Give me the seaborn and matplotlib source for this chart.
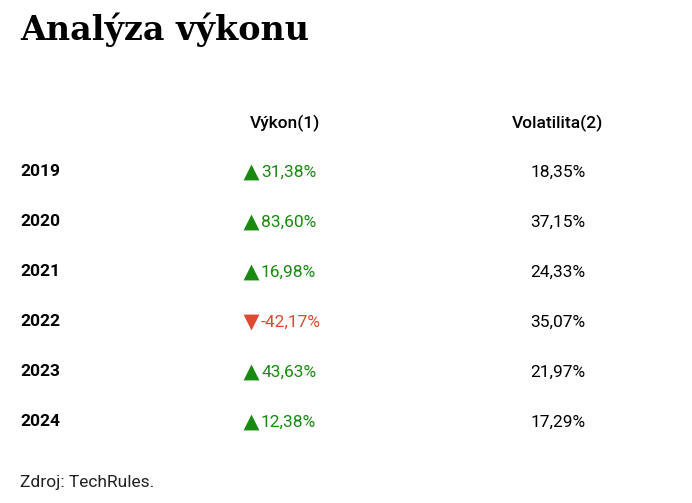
import matplotlib
matplotlib.use("Agg")
import matplotlib.pyplot as plt
import seaborn as sns

years = ["2019", "2020", "2021", "2022", "2023", "2024"]
performance = [31.38, 83.60, 16.98, -42.17, 43.63, 12.38]
volatility = [18.35, 37.15, 24.33, 35.07, 21.97, 17.29]
headers = ["Výkon(1)", "Volatilita(2)"]
title = "Analýza výkonu"
source = "Zdroj: TechRules."

sns.set_theme(style="white")
plt.rcParams['font.family'] = ['Roboto', 'DejaVu Sans']
plt.rcParams['text.color'] = 'black'

fig = plt.figure(figsize=(6.92, 5.03), dpi=100)
ax = fig.add_axes([0, 0, 1, 1])
ax.set_xlim(0, 692)
ax.set_ylim(503, 0)
ax.axis("off")

def fmt(v):
    return f"{v:.2f}".replace(".", ",") + "%"

fig.text(20/692, 1 - 30/503, title, fontsize=24, fontweight="bold",
         family=["Roboto Slab", "DejaVu Serif"], va="center", ha="left", color="black")

ax.text(285, 123, headers[0], fontsize=12.5, fontweight="medium", ha="center", va="center", color="black")
ax.text(558, 123, headers[1], fontsize=12.5, fontweight="medium", ha="center", va="center", color="black")

green, red = "#178a0f", "#dc4a30"
for i, (y, p, v) in enumerate(zip(years, performance, volatility)):
    yy = 172 + 50 * i
    ax.text(20, yy, y, fontsize=12.5, fontweight="bold", ha="left", va="center", color="black")
    c = green if p >= 0 else red
    ax.scatter([251], [yy], marker="^" if p >= 0 else "v", s=130, color=c, linewidths=0)
    ax.text(261, yy, fmt(p), fontsize=12.5, color=c, ha="left", va="center")
    ax.text(558, yy, fmt(v), fontsize=12.5, ha="center", va="center", color="black")

ax.text(20, 482, source, fontsize=12.5, ha="left", va="center", color="#222222")

fig.savefig("out.png", dpi=100)
